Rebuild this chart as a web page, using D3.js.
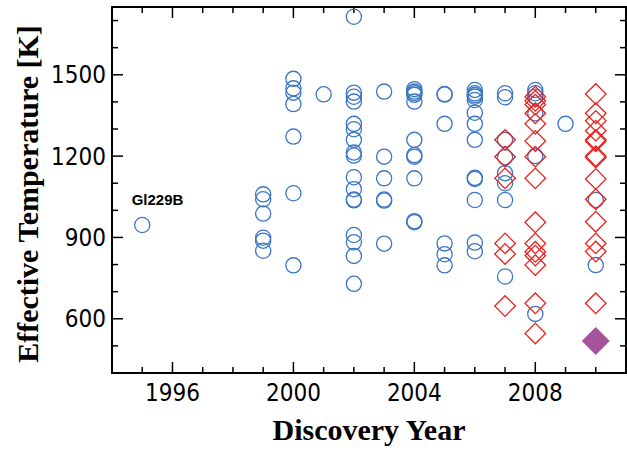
<!DOCTYPE html>
<html>
<head>
<meta charset="utf-8">
<script src="https://cdn.jsdelivr.net/npm/d3@7"></script>
<style>
    body { margin: 0; background: #fff; }
    .tick-label { font-family: "Liberation Sans Narrow", "DejaVu Sans Condensed", sans-serif; font-size: 24px; fill: #000; }
    .axis-title { font-family: "Liberation Serif", "Times New Roman", serif; font-weight: bold; font-size: 30px; fill: #000; }
</style>
</head>
<body>
<div id="chart"></div>
<script>

// blue circles: year and temperatures read for that year
let circleYears = [1995, 1999, 2000, 2001, 2002, 2003, 2004, 2005, 2006, 2007, 2008, 2009, 2010];
let circleTemps = [
    [946],
    [1059, 1041, 988, 899, 888, 851],
    [1485, 1450, 1434, 1392, 1272, 1063, 797],
    [1428],
    [1714, 1434, 1419, 1401, 1319, 1299, 1260, 1213, 1202, 1122, 1078, 1040, 1037, 909, 882, 832, 729],
    [1438, 1198, 1118, 1040, 1036, 877],
    [1447, 1438, 1432, 1426, 1401, 1260, 1204, 1198, 1118, 960, 956],
    [1429, 1427, 1319, 878, 838, 797],
    [1444, 1432, 1425, 1419, 1407, 1360, 1319, 1260, 1120, 1116, 1038, 881, 849],
    [1432, 1417, 1260, 1196, 1137, 1100, 1038, 756],
    [1444, 1432, 1419, 1358, 1200, 618],
    [1319],
    [1038, 798]
];

// red diamonds
let diamondYears = [2007, 2008, 2010];
let diamondTemps = [
    [1260, 1198, 1118, 878, 839, 647],
    [1419, 1404, 1390, 1358, 1319, 1256, 1198, 1118, 956, 878, 847, 833, 798, 657, 546],
    [1429, 1358, 1330, 1294, 1260, 1255, 1200, 1195, 1116, 1041, 958, 878, 848, 657]
];

// filled purple diamond
let highlightYear = [2010];
let highlightTemp = [518];

let labelName = "Gl229B";
let labelPos = [1994.65, 1020];

let xMajor = [1996, 2000, 2004, 2008];
let yMajor = [600, 900, 1200, 1500];

let width = 627, height = 451;
let margin = {top: 7, right: 1, bottom: 78, left: 112};

let svg = d3.select("#chart").append("svg")
    .attr("width", width)
    .attr("height", height);

let x = d3.scaleLinear()
    .domain([1994, 2011])
    .range([margin.left, width - margin.right]);

let y = d3.scaleLinear()
    .domain([400, 1750])
    .range([height - margin.bottom, margin.top]);

let x0 = x.range()[0], x1 = x.range()[1];
let y0 = y.range()[0], y1 = y.range()[1];

// ticks, all drawn inward on the four sides
let xMinor = d3.range(1995, 2011).filter(d => !xMajor.includes(d));
let yMinor = d3.range(500, 1750, 100).filter(d => !yMajor.includes(d));

function tickLen(major) { return major ? 11 : 6; }

let ticks = svg.append("g").attr("stroke", "#000").attr("stroke-width", 1.5);

xMajor.concat(xMinor).forEach(d => {
    let len = tickLen(xMajor.includes(d));
    ticks.append("line").attr("x1", x(d)).attr("x2", x(d)).attr("y1", y0).attr("y2", y0 - len);
    ticks.append("line").attr("x1", x(d)).attr("x2", x(d)).attr("y1", y1).attr("y2", y1 + len);
});
yMajor.concat(yMinor).forEach(d => {
    let len = tickLen(yMajor.includes(d));
    ticks.append("line").attr("y1", y(d)).attr("y2", y(d)).attr("x1", x0).attr("x2", x0 + len);
    ticks.append("line").attr("y1", y(d)).attr("y2", y(d)).attr("x1", x1).attr("x2", x1 - len);
});

// tick labels
svg.append("g").selectAll("text")
    .data(xMajor)
    .enter().append("text")
    .attr("class", "tick-label")
    .attr("x", d => x(d))
    .attr("y", y0 + 28)
    .attr("text-anchor", "middle")
    .text(d => d);

svg.append("g").selectAll("text")
    .data(yMajor)
    .enter().append("text")
    .attr("class", "tick-label")
    .attr("x", x0 - 6)
    .attr("y", d => y(d))
    .attr("dy", "0.35em")
    .attr("text-anchor", "end")
    .text(d => d);

// axis titles
svg.append("text")
    .attr("class", "axis-title")
    .attr("x", (x0 + x1) / 2)
    .attr("y", 440)
    .attr("text-anchor", "middle")
    .text("Discovery Year");

svg.append("text")
    .attr("class", "axis-title")
    .attr("transform", `translate(38, ${(y0 + y1) / 2 + 4}) rotate(-90)`)
    .attr("text-anchor", "middle")
    .text("Effective Temperature [K]");

// flatten the columns into points
let circles = circleYears.flatMap((yr, i) => circleTemps[i].map(t => ({year: yr, temp: t})));
let diamonds = diamondYears.flatMap((yr, i) => diamondTemps[i].map(t => ({year: yr, temp: t})));
let highlight = highlightYear.map((yr, i) => ({year: yr, temp: highlightTemp[i]}));

svg.append("g").selectAll("circle")
    .data(circles)
    .enter().append("circle")
    .attr("cx", d => x(d.year))
    .attr("cy", d => y(d.temp))
    .attr("r", 7.6)
    .attr("fill", "none")
    .attr("stroke", "#3a76c4")
    .attr("stroke-width", 1.3);

let diamondPath = d3.symbol().type(d3.symbolSquare).size(212);

svg.append("g").selectAll("path")
    .data(diamonds)
    .enter().append("path")
    .attr("d", diamondPath)
    .attr("transform", d => `translate(${x(d.year)}, ${y(d.temp)}) rotate(45)`)
    .attr("fill", "none")
    .attr("stroke", "#e8231f")
    .attr("stroke-width", 1.3);

svg.append("g").selectAll("path")
    .data(highlight)
    .enter().append("path")
    .attr("d", d3.symbol().type(d3.symbolSquare).size(392))
    .attr("transform", d => `translate(${x(d.year)}, ${y(d.temp)}) rotate(45)`)
    .attr("fill", "#a5549b");

// label for the first object
svg.append("text")
    .attr("x", x(labelPos[0]))
    .attr("y", y(labelPos[1]))
    .attr("font-family", "Liberation Sans, Arial, sans-serif")
    .attr("font-weight", "bold")
    .attr("font-size", 15)
    .text(labelName);

// frame
svg.append("rect")
    .attr("x", x0)
    .attr("y", y1)
    .attr("width", x1 - x0)
    .attr("height", y0 - y1)
    .attr("fill", "none")
    .attr("stroke", "#000")
    .attr("stroke-width", 2);

</script>
</body>
</html>
